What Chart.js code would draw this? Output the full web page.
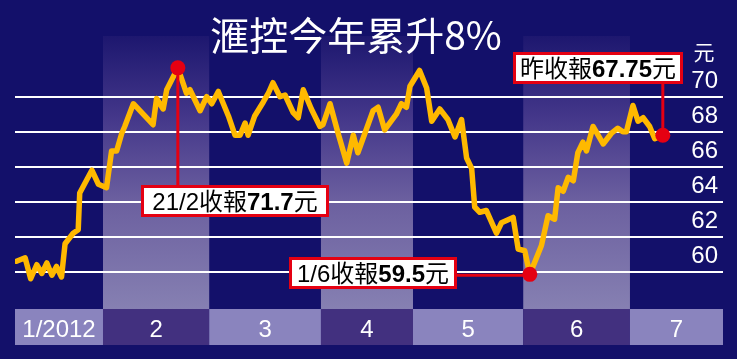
<!DOCTYPE html>
<html>
<head>
<meta charset="utf-8">
<script src="https://cdn.jsdelivr.net/npm/chart.js@4"></script>
<style>
  html, body { margin: 0; padding: 0; background: #13106a; }
  #wrap { width: 737px; height: 359px; }
</style>
</head>
<body>
<div id="wrap"><canvas id="hsbc"></canvas></div>
<script>
// HSBC share price, Jan - Jul 2012 (x = trading day, y = HK$)
const months = ['1/2012', '2', '3', '4', '5', '6', '7'];
const monthEdges = [0, 17.4, 38.4, 60.5, 78.7, 100.5, 121.6, 140];
const yTicks = [60, 62, 64, 66, 68, 70];

const days = [0.3, 2.0, 3.1, 4.3, 5.3, 6.3, 7.3, 8.2, 9.2, 9.9, 11.5, 12.5, 12.8, 15.2, 16.5, 18.1, 19.1, 20.1,
    21.1, 21.7, 23.4, 27.3, 28.0, 29.3, 30.0, 32.2, 33.9, 34.6, 36.6, 37.9, 38.9, 40.2, 42.2, 43.5, 44.5, 45.5,
    46.1, 47.4, 49.1, 50.1, 51.0, 52.4, 53.4, 55.0, 56.0, 57.0, 58.6, 60.3, 60.9, 62.3, 63.9, 65.6, 66.9, 67.8,
    70.8, 71.8, 73.1, 75.4, 76.4, 77.4, 78.1, 80.0, 81.4, 82.4, 84.0, 85.6, 87.0, 88.3, 89.3, 90.3, 90.9, 91.9,
    93.2, 95.2, 96.2, 98.5, 99.5, 100.8, 101.8, 104.1, 105.4, 106.7, 107.4, 108.4, 109.4, 110.4, 111.3, 112.3,
    113.0, 114.3, 116.3, 117.9, 119.2, 120.2, 120.9, 122.2, 123.2, 124.2, 125.5, 126.5, 128.1];
const prices = [60.6, 60.8, 59.6, 60.4, 59.9, 60.5, 59.8, 60.3, 59.7, 61.6, 62.2, 62.4, 64.5, 65.8, 65.0, 64.8, 66.9, 66.9,
    67.9, 68.3, 69.6, 68.4, 69.9, 69.3, 70.4, 71.65, 70.2, 70.4, 69.2, 70.0, 69.6, 70.3, 68.9, 67.8, 67.8, 68.5,
    67.8, 68.9, 69.7, 70.2, 70.8, 70.0, 70.1, 69.1, 68.8, 70.4, 69.3, 68.3, 68.4, 69.6, 67.9, 66.2, 67.8, 66.8,
    69.2, 69.4, 68.1, 69.0, 69.6, 69.4, 70.6, 71.5, 70.5, 68.6, 69.3, 68.7, 67.7, 68.7, 66.5, 65.9, 63.7, 63.4,
    63.5, 62.2, 62.8, 63.1, 61.3, 61.2, 59.85, 61.5, 63.2, 63.0, 64.8, 64.6, 65.4, 65.2, 66.8, 67.4,
    66.9, 68.3, 67.3, 67.9, 68.2, 68.0, 68.0, 69.5, 68.6, 68.8, 68.3, 67.6, 67.8];

// call-outs: high, low, last close
const noteDays = [32.2, 101.8, 128.1];
const notePrices = [71.65, 59.85, 67.8];
const noteHeads = ['21/2收報', '1/6收報', '昨收報'];
const noteValues = ['71.7', '59.5', '67.75'];

const titleText = '滙控今年累升8%';
const unitText = '元';

const RED = '#e50012';
const FONT = '"Liberation Sans", "Noto Sans CJK TC", sans-serif';

const paperPlugin = {
    id: 'paper',
    beforeDraw(chart) {
        const { ctx, chartArea: a, scales: { x } } = chart;
        ctx.save();
        ctx.fillStyle = '#13106a';
        ctx.fillRect(0, 0, chart.width, chart.height);
        const band = ctx.createLinearGradient(0, a.top, 0, a.bottom);
        band.addColorStop(0, '#1d176f');
        band.addColorStop(0.3, '#44378a');
        band.addColorStop(0.6, '#6b5f9f');
        band.addColorStop(1, '#8680b2');
        ctx.font = '24px ' + FONT;
        ctx.textAlign = 'center';
        ctx.textBaseline = 'alphabetic';
        months.forEach((m, i) => {
            const x0 = x.getPixelForValue(monthEdges[i]);
            const x1 = x.getPixelForValue(monthEdges[i + 1]);
            if (i % 2 === 1) {
                ctx.fillStyle = band;
                ctx.fillRect(x0, a.top, x1 - x0, a.bottom - a.top);
            }
            ctx.fillStyle = i % 2 ? '#42307f' : '#8a84be';
            ctx.fillRect(x0, a.bottom, x1 - x0, 36);
            ctx.fillStyle = '#ffffff';
            ctx.fillText(m, (x0 + x1) / 2, a.bottom + 28);
        });
        ctx.restore();
    },
    afterDatasetsDraw(chart) {
        const { ctx, scales: { x, y } } = chart;
        // box layout for each call-out: left, top, width, and how the link runs
        const boxes = [
            { l: 141, t: 185, w: 188, link: 'up' },
            { l: 289, t: 257, w: 168, link: 'right' },
            { l: 513, t: 52, w: 170, link: 'down' }
        ];
        const h = 32;
        ctx.save();
        noteDays.forEach((d, i) => {
            const px = x.getPixelForValue(d);
            const py = y.getPixelForValue(notePrices[i]);
            const b = boxes[i];
            ctx.strokeStyle = RED;
            ctx.lineWidth = 3;
            ctx.beginPath();
            if (b.link === 'up') { ctx.moveTo(px, py); ctx.lineTo(px, b.t); }
            if (b.link === 'down') { ctx.moveTo(px, b.t + h); ctx.lineTo(px, py); }
            if (b.link === 'right') { ctx.moveTo(b.l + b.w, py + 1); ctx.lineTo(px, py + 1); }
            ctx.stroke();
            // box
            ctx.fillStyle = '#ffffff';
            ctx.fillRect(b.l, b.t, b.w, h);
            ctx.lineWidth = 3;
            ctx.strokeRect(b.l + 1.5, b.t + 1.5, b.w - 3, h - 3);
            // text: head normal, value bold, unit normal
            const fN = '24px ' + FONT, fB = 'bold 24px ' + FONT;
            ctx.font = fN; const w1 = ctx.measureText(noteHeads[i]).width;
            const w3 = ctx.measureText(unitText).width;
            ctx.font = fB; const w2 = ctx.measureText(noteValues[i]).width;
            let tx = b.l + (b.w - w1 - w2 - w3) / 2;
            const ty = b.t + 25;
            ctx.fillStyle = '#000000';
            ctx.textAlign = 'left';
            ctx.textBaseline = 'alphabetic';
            ctx.font = fN; ctx.fillText(noteHeads[i], tx, ty); tx += w1;
            ctx.font = fB; ctx.fillText(noteValues[i], tx, ty); tx += w2;
            ctx.font = fN; ctx.fillText(unitText, tx, ty);
            // dot
            ctx.fillStyle = RED;
            ctx.beginPath();
            ctx.arc(px, py, 7.5, 0, Math.PI * 2);
            ctx.fill();
        });
        // title and unit
        ctx.fillStyle = '#ffffff';
        ctx.textAlign = 'center';
        ctx.textBaseline = 'middle';
        ctx.font = '39px "Noto Sans CJK TC", sans-serif';
        ctx.fillText(titleText, 356, 35);
        ctx.font = '21px "Noto Sans CJK TC", sans-serif';
        ctx.fillText(unitText, 704, 52);
        ctx.restore();
    }
};

const ctx = document.getElementById('hsbc').getContext('2d');
new Chart(ctx, {
    type: 'line',
    data: {
        datasets: [{
            data: days.map((d, i) => ({ x: d, y: prices[i] })),
            borderColor: '#ffb900',
            borderWidth: 5.5,
            borderJoinStyle: 'round',
            borderCapStyle: 'round',
            pointRadius: 0,
            tension: 0
        }]
    },
    options: {
        responsive: true,
        maintainAspectRatio: false,
        animation: false,
        layout: { padding: { left: 15, right: 4, top: 36, bottom: 50 } },
        plugins: { legend: { display: false }, tooltip: { enabled: false }, title: { display: false } },
        scales: {
            x: { type: 'linear', min: monthEdges[0], max: monthEdges[monthEdges.length - 1], display: false },
            y: {
                position: 'right',
                min: 57.87,
                max: 73.47,
                afterBuildTicks: (scale) => { scale.ticks = yTicks.map(v => ({ value: v })); },
                afterFit: (scale) => { scale.width = 10; },
                border: { display: false },
                grid: { color: '#ffffff', lineWidth: 2, drawTicks: false },
                ticks: {
                    mirror: true,
                    padding: -5,
                    labelOffset: -15,
                    color: '#ffffff',
                    font: { family: FONT, size: 24 }
                }
            }
        }
    },
    plugins: [paperPlugin]
});
</script>
</body>
</html>
